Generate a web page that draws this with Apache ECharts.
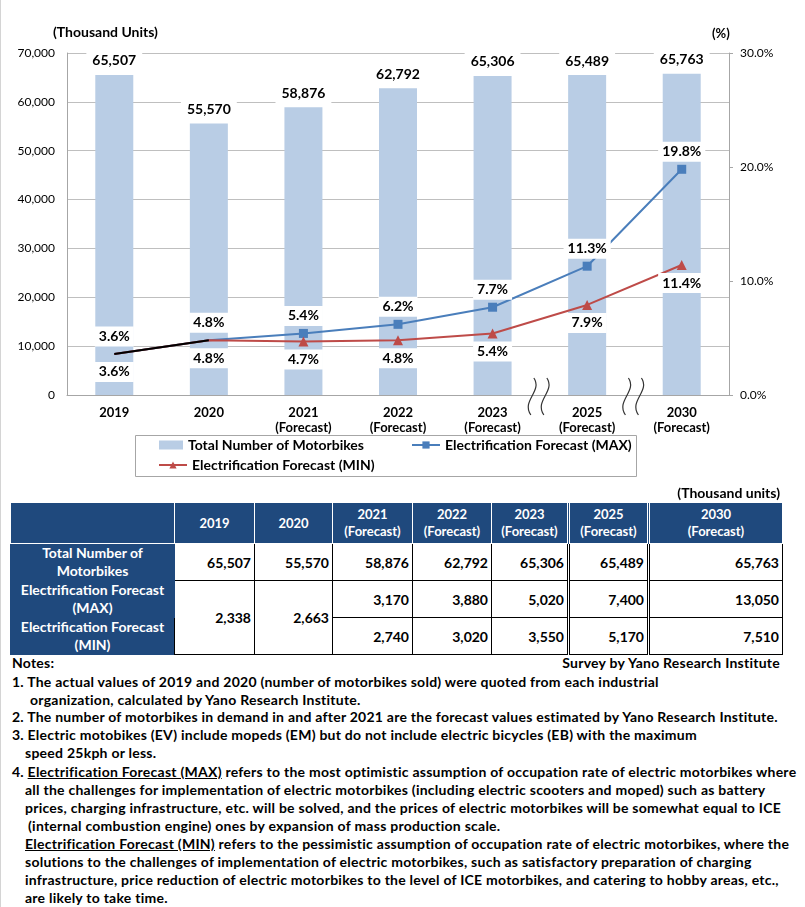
<!DOCTYPE html>
<html><head><meta charset="utf-8">
<script src="https://cdn.jsdelivr.net/npm/echarts@6/dist/echarts.min.js"></script>
<style>
html,body{margin:0;padding:0;background:#fff;}
body{width:805px;height:907px;position:relative;overflow:hidden;font-family:Lato,'Open Sans',sans-serif;font-weight:bold;color:#000;}
#edge{position:absolute;left:0;top:0;width:1px;height:907px;background:#d4d4d4;}
#chart{position:absolute;left:0;top:0;width:805px;height:490px;}
#unit2{position:absolute;right:25px;top:484px;font-size:14px;white-space:nowrap;}
#tbl{position:absolute;left:10px;top:502px;border-collapse:collapse;table-layout:fixed;}
#tbl th{background:#1f497d;color:#fff;font-size:13px;line-height:17px;border:1px solid #fff;height:40px;padding:0;text-align:center;vertical-align:middle;}
#tbl td{font-size:14px;border:1px solid #000;padding:0 3px 0 0;text-align:right;vertical-align:middle;}
#tbl td.lab{background:#1f497d;color:#fff;text-align:center;border:1px solid #1f497d;padding:0;line-height:18px;font-size:14px;}
#tbl .dbl{border-left:3px double #000;}
#tbl th.dbl{border-left:3px double #fff;}
.note{position:absolute;font-size:14px;letter-spacing:0.25px;white-space:nowrap;line-height:18px;}
.u{text-decoration:underline;}
</style>
</head><body>
<div id="edge"></div>
<div id="chart"></div>
<div id="unit2">(Thousand units)</div>
<table id="tbl"></table>
<div id="notes"></div>
<script>
// ---------- data ----------
const categories = ['2019','2020','2021','2022','2023','2025','2030'];
const isForecast = [false,false,true,true,true,true,true];
const totalMotorbikes = [65507,55570,58876,62792,65306,65489,65763];
const rateMax = [3.6,4.8,5.4,6.2,7.7,11.3,19.8];
const rateMin = [3.6,4.8,4.7,4.8,5.4,7.9,11.4];
const actualRate = [3.6,4.8,null,null,null,null,null];
const evMax = [2338,2663,3170,3880,5020,7400,13050];
const evMin = [2338,2663,2740,3020,3550,5170,7510];
const leftTicks = {min:0,max:70000,interval:10000};
const rightTicks = {min:0,max:30,interval:10};
const seriesNames = ['Total Number of Motorbikes','Electrification Forecast (MAX)','Electrification Forecast (MIN)'];
const rowLabels = ['Total Number of<br>Motorbikes','Electrification Forecast<br>(MAX)','Electrification Forecast<br>(MIN)'];

const fmt = v => Number(v).toLocaleString('en-US');
const FONT = 'Lato';

// ---------- chart ----------
const chart = echarts.init(document.getElementById('chart'));
const xLabels = categories.map((c,i)=> isForecast[i] ? c+'\n(Forecast)' : c);
const pctLabel = (pos)=>({show:true,position:pos,distance:3,formatter:p=>Number(p.value).toFixed(1)+'%',
  fontFamily:FONT,fontWeight:'bold',fontSize:14,color:'#000',backgroundColor:'#fff',padding:[3,4]});
const hideFirst = (arr)=>arr.map((v,i)=> i<2 ? {value:v,itemStyle:{color:'rgba(0,0,0,0)',borderWidth:0}} : v);
const legendText = {fontFamily:FONT,fontWeight:'bold',fontSize:14,color:'#000'};

const option = {
  animation:false,
  textStyle:{fontFamily:FONT},
  grid:{left:67,top:53,width:662,height:342,containLabel:false,outerBoundsMode:'none'},
  xAxis:{type:'category',data:xLabels,
    axisLine:{lineStyle:{color:'#a6a6a6',width:1}},axisTick:{show:false},
    axisLabel:{color:'#000',fontWeight:'bold',fontSize:13,lineHeight:15,margin:10,interval:0,fontFamily:FONT}},
  yAxis:[
    {type:'value',min:leftTicks.min,max:leftTicks.max,interval:leftTicks.interval,
     axisLine:{show:true,lineStyle:{color:'#a6a6a6'}},axisTick:{show:false},
     splitLine:{show:true,lineStyle:{color:'#bfbfbf',width:1}},
     axisLabel:{color:'#000',fontSize:12,margin:12,formatter:v=>fmt(v),fontFamily:FONT}},
    {type:'value',position:'right',min:rightTicks.min,max:rightTicks.max,interval:rightTicks.interval,
     axisLine:{show:true,lineStyle:{color:'#a6a6a6'}},axisTick:{show:true,length:4,inside:false,lineStyle:{color:'#a6a6a6'}},
     splitLine:{show:false},
     axisLabel:{color:'#000',fontSize:12,margin:11,formatter:v=>v.toFixed(1)+'%',fontFamily:FONT}}
  ],
  legend:[
    {data:[seriesNames[0]],left:159,top:438,padding:0,itemWidth:24,itemHeight:9,icon:'rect',itemGap:0,textStyle:legendText},
    {data:[seriesNames[1]],left:411,top:438,padding:0,itemWidth:28,itemHeight:9,itemGap:0,textStyle:legendText},
    {data:[seriesNames[2]],left:158,top:458,padding:0,itemWidth:28,itemHeight:9,itemGap:0,textStyle:legendText}
  ],
  series:[
    {name:seriesNames[0],type:'bar',data:totalMotorbikes,barWidth:38,itemStyle:{color:'#b9cde5'},
     label:{show:true,position:'top',distance:2,formatter:p=>fmt(p.value),fontFamily:FONT,fontWeight:'bold',fontSize:14,color:'#000',backgroundColor:'#fff',padding:[5,6]}},
    {name:seriesNames[1],type:'line',yAxisIndex:1,data:hideFirst(rateMax),symbol:'rect',symbolSize:9,
     lineStyle:{color:'#4a7ebb',width:2},itemStyle:{color:'#4a7ebb'},label:pctLabel('top'),z:3},
    {name:seriesNames[2],type:'line',yAxisIndex:1,data:hideFirst(rateMin),symbol:'triangle',symbolSize:10,
     lineStyle:{color:'#be4b48',width:2},itemStyle:{color:'#be4b48'},label:pctLabel('bottom'),z:3},
    {name:'actual',type:'line',yAxisIndex:1,data:actualRate.map(v=>v===null?'-':v),symbol:'none',
     lineStyle:{color:'#000',width:2},z:5,silent:true}
  ]
};
chart.setOption(option);

// decorations: axis-unit texts, legend frame, axis-break marks
const breakAt = [4,5]; // breaks after 2023 and after 2025
const graphics = [
  {type:'text',left:53,top:25,style:{text:'(Thousand Units)',font:'bold 14px Lato',fill:'#000'}},
  {type:'text',left:712,top:27,style:{text:'(%)',font:'bold 13px Lato',fill:'#000'}},
  {type:'rect',shape:{x:135.5,y:435.5,width:501,height:41},style:{fill:'none',stroke:'#a6a6a6',lineWidth:1},z:-1}
];
breakAt.forEach(i=>{
  const a = chart.convertToPixel({xAxisIndex:0},xLabels[i]);
  const b = chart.convertToPixel({xAxisIndex:0},xLabels[i+1]);
  const mx = (a+b)/2;
  [-7,6].forEach(dx=>{
    const cx = mx+dx;
    graphics.push({type:'bezierCurve',shape:{x1:cx+1,y1:378,cpx1:cx+10,cpy1:391,cpx2:cx-12,cpy2:401,x2:cx-2,y2:415},
      style:{stroke:'#333',lineWidth:1.2,fill:null},z:10});
  });
});
chart.setOption({graphic:graphics});

// ---------- table ----------
let h = '<colgroup>';
[164,80,78,80,79,77,80,134].forEach(w=>{h+='<col style="width:'+w+'px">';});
h += '</colgroup><tr><th></th>';
categories.forEach((c,i)=>{ h += '<th'+(i>=5?' class="dbl"':'')+'>'+c+(isForecast[i]?'<br>(Forecast)':'')+'</th>'; });
h += '</tr><tr style="height:36px"><td class="lab">'+rowLabels[0]+'</td>';
totalMotorbikes.forEach((v,i)=>{ h += '<td'+(i>=5?' class="dbl"':'')+'>'+fmt(v)+'</td>'; });
h += '</tr><tr style="height:36px"><td class="lab">'+rowLabels[1]+'</td>';
evMax.forEach((v,i)=>{
  if (evMax[i]===evMin[i]) h += '<td rowspan="2">'+fmt(v)+'</td>';
  else h += '<td'+(i>=5?' class="dbl"':'')+'>'+fmt(v)+'</td>';
});
h += '</tr><tr style="height:37px"><td class="lab">'+rowLabels[2]+'</td>';
evMin.forEach((v,i)=>{ if (evMax[i]!==evMin[i]) h += '<td'+(i>=5?' class="dbl"':'')+'>'+fmt(v)+'</td>'; });
h += '</tr>';
document.getElementById('tbl').innerHTML = h;

// ---------- notes ----------
const notes = [
  [12,654,'Notes:'],
  [12,673,'1. The actual values of 2019 and 2020 (number of motorbikes sold) were quoted from each industrial'],
  [30,691,'organization, calculated by Yano Research Institute.'],
  [12,708,'2. The number of motorbikes in demand in and after 2021 are the forecast values estimated by Yano Research Institute.'],
  [12,726,'3. Electric motobikes (EV) include mopeds (EM) but do not include electric bicycles (EB) with the maximum'],
  [25,744,'speed 25kph or less.'],
  [12,763,'4. <span class="u">Electrification Forecast (MAX)</span> refers to the most optimistic assumption of occupation rate of electric motorbikes where'],
  [25,781,'all the challenges for implementation of electric motorbikes (including electric scooters and moped) such as battery'],
  [25,799,'prices, charging infrastructure, etc. will be solved, and the prices of electric motorbikes will be somewhat equal to ICE'],
  [28,817,'(internal combustion engine) ones by expansion of mass production scale.'],
  [25,835,'<span class="u">Electrification Forecast (MIN)</span> refers to the pessimistic assumption of occupation rate of electric motorbikes, where the'],
  [25,853,'solutions to the challenges of implementation of electric motorbikes, such as satisfactory preparation of charging'],
  [25,871,'infrastructure, price reduction of electric motorbikes to the level of ICE motorbikes, and catering to hobby areas, etc.,'],
  [25,889,'are likely to take time.']
];
let nh = '';
notes.forEach(n=>{ nh += '<div class="note" style="left:'+n[0]+'px;top:'+n[1]+'px">'+n[2]+'</div>'; });
nh += '<div class="note" style="right:25px;top:654px">Survey by Yano Research Institute</div>';
document.getElementById('notes').innerHTML = nh;
</script>
</body></html>
